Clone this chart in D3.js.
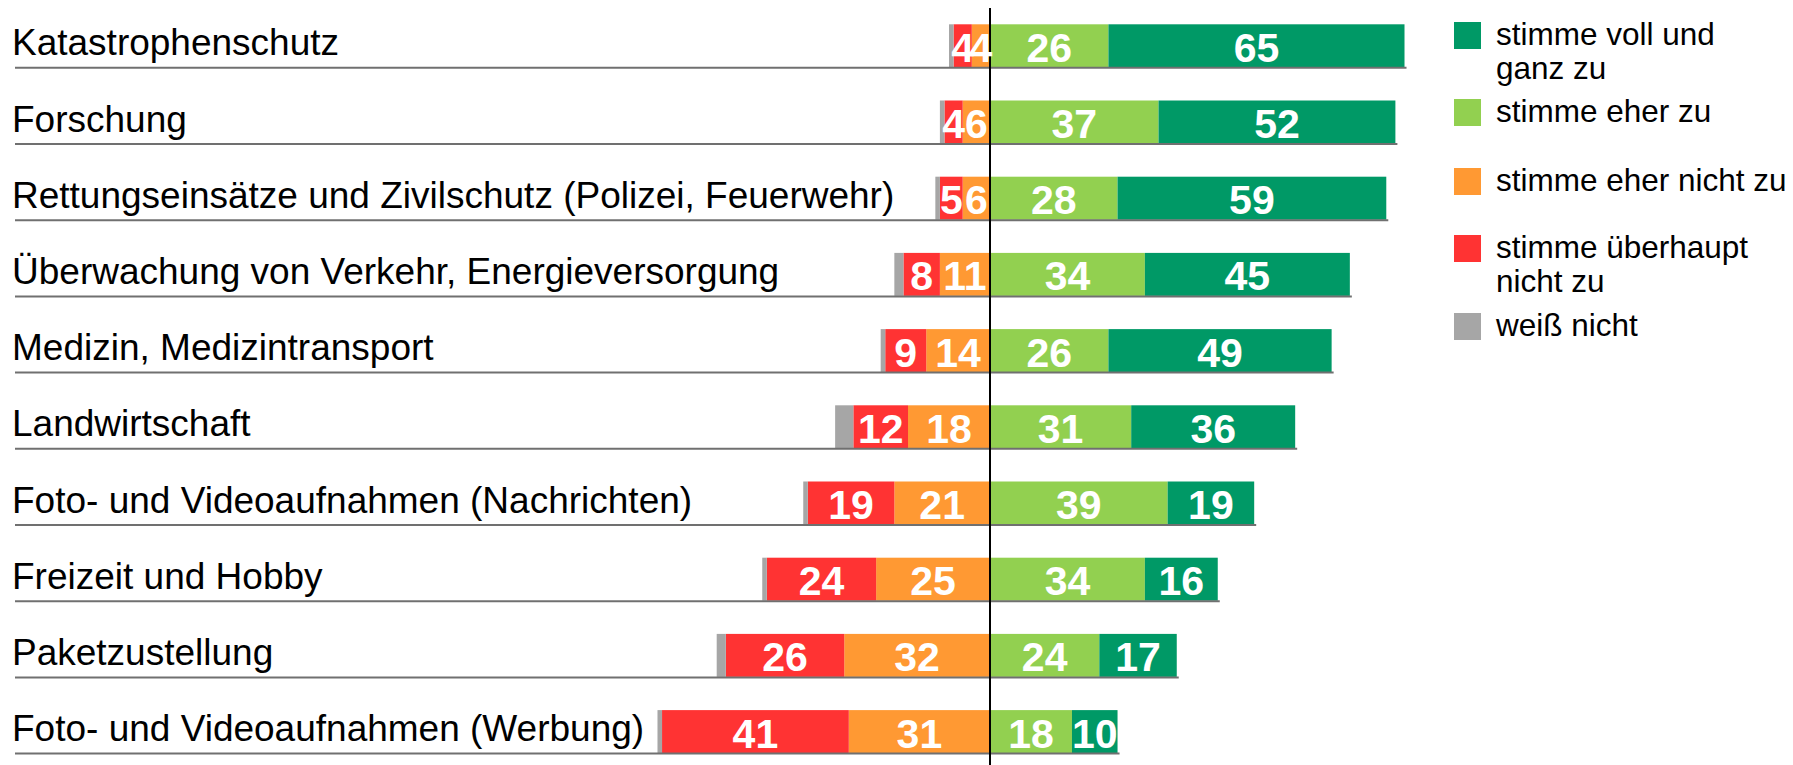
<!DOCTYPE html>
<html><head><meta charset="utf-8">
<script src="https://cdn.jsdelivr.net/npm/d3@7"></script>
<style>html,body{margin:0;padding:0;background:#fff;} svg{display:block;}</style>
</head><body>
<svg id="chart" width="1793" height="765"></svg>
<script>
// ---- data ----
const categories = [
  "Katastrophenschutz",
  "Forschung",
  "Rettungseinsätze und Zivilschutz (Polizei, Feuerwehr)",
  "Überwachung von Verkehr, Energieversorgung",
  "Medizin, Medizintransport",
  "Landwirtschaft",
  "Foto- und Videoaufnahmen (Nachrichten)",
  "Freizeit und Hobby",
  "Paketzustellung",
  "Foto- und Videoaufnahmen (Werbung)"
];
const vollUndGanz     = [65, 52, 59, 45, 49, 36, 19, 16, 17, 10];
const eherZu          = [26, 37, 28, 34, 26, 31, 39, 34, 24, 18];
const eherNicht       = [4, 6, 6, 11, 14, 18, 21, 25, 32, 31];
const ueberhauptNicht = [4, 4, 5, 8, 9, 12, 19, 24, 26, 41];
const weissNicht      = [1, 1, 1, 2, 1, 4, 1, 1, 2, 1];
const legendLabels = [
  ["stimme voll und", "ganz zu"],
  ["stimme eher zu"],
  ["stimme eher nicht zu"],
  ["stimme überhaupt", "nicht zu"],
  ["weiß nicht"]
];

// ---- styles / layout ----
const colors = {
  voll: "#009966", eher: "#92D050", eherNicht: "#FF9933",
  ueberhaupt: "#FF3333", weiss: "#A6A6A6"
};
const legendColors = [colors.voll, colors.eher, colors.eherNicht, colors.ueberhaupt, colors.weiss];
const legendTops = [22, 99, 168, 235, 313];
const FONT = "'Liberation Sans', Arial, Helvetica, sans-serif";

const svg = d3.select("#chart");

const x = d3.scaleLinear().domain([-100, 100]).range([534.5, 1445.5]);
const y = d3.scaleBand().domain(categories)
  .range([24.3, 753.1]).paddingInner(0.4357).paddingOuter(0);
const bh = y.bandwidth();

// build segments
const segs = [];
categories.forEach((c, i) => {
  const n = eherNicht[i], u = ueberhauptNicht[i], w = weissNicht[i];
  const e = eherZu[i], v = vollUndGanz[i];
  segs.push({c, x0: -n, x1: 0, v: n, col: colors.eherNicht, label: true});
  segs.push({c, x0: -n - u, x1: -n, v: u, col: colors.ueberhaupt, label: true});
  segs.push({c, x0: -n - u - w, x1: -n - u, v: w, col: colors.weiss, label: false});
  segs.push({c, x0: 0, x1: e, v: e, col: colors.eher, label: true});
  segs.push({c, x0: e, x1: e + v, v: v, col: colors.voll, label: true});
});

svg.append("g").selectAll("rect").data(segs).join("rect")
  .attr("x", d => x(d.x0))
  .attr("y", d => y(d.c))
  .attr("width", d => x(d.x1) - x(d.x0))
  .attr("height", bh)
  .attr("fill", d => d.col);

// category underlines
svg.append("g").selectAll("line").data(categories).join("line")
  .attr("x1", 15)
  .attr("x2", (c, i) => x(eherZu[i] + vollUndGanz[i]) + 2)
  .attr("y1", c => y(c) + bh + 0.5)
  .attr("y2", c => y(c) + bh + 0.5)
  .attr("stroke", "#707070").attr("stroke-width", 2);

// zero line
svg.append("line")
  .attr("x1", x(0)).attr("x2", x(0))
  .attr("y1", 8).attr("y2", 765)
  .attr("stroke", "#000").attr("stroke-width", 2);

// category labels
svg.append("g").selectAll("text").data(categories).join("text")
  .attr("x", 12)
  .attr("y", c => y(c) + 31)
  .attr("font-family", FONT).attr("font-size", 37).attr("fill", "#000")
  .text(c => c);

// value labels
svg.append("g").selectAll("text").data(segs.filter(d => d.label)).join("text")
  .attr("x", d => (x(d.x0) + x(d.x1)) / 2)
  .attr("y", d => y(d.c) + 37.5)
  .attr("text-anchor", "middle")
  .attr("font-family", FONT).attr("font-weight", "bold")
  .attr("font-size", 41).attr("fill", "#fff")
  .text(d => d.v);

// legend
const lg = svg.append("g").selectAll("g").data(legendLabels).join("g");
lg.append("rect")
  .attr("x", 1454).attr("y", (d, i) => legendTops[i])
  .attr("width", 27).attr("height", 27)
  .attr("fill", (d, i) => legendColors[i]);
lg.append("text")
  .attr("x", 1496).attr("y", (d, i) => legendTops[i] + 22.5)
  .attr("font-family", FONT).attr("font-size", 31.5).attr("fill", "#000")
  .selectAll("tspan").data(d => d).join("tspan")
  .attr("x", 1496).attr("dy", (t, j) => j === 0 ? 0 : 34.5)
  .text(t => t);
</script>
</body></html>
